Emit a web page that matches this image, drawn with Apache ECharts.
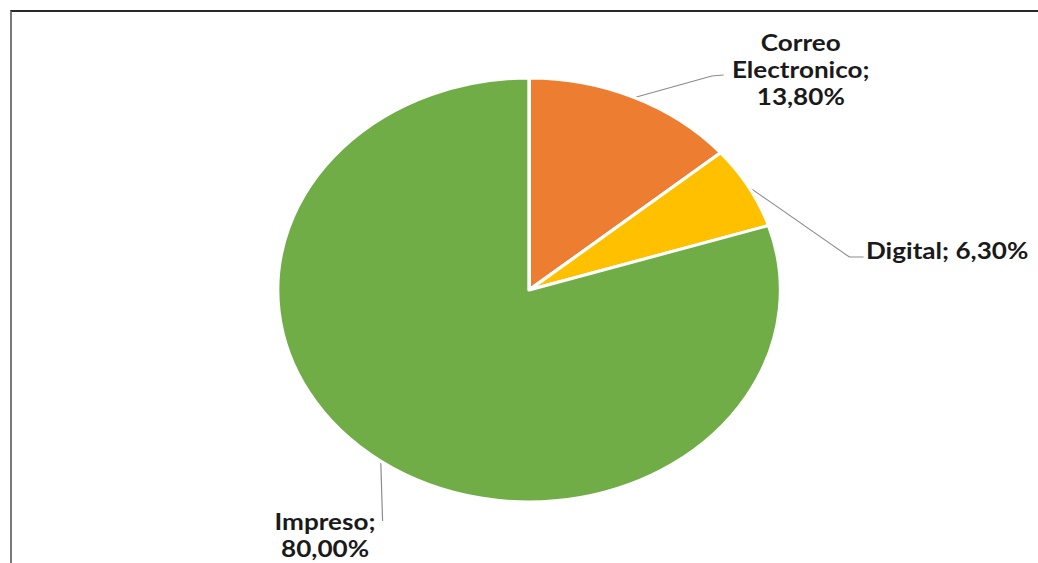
<!DOCTYPE html>
<html>
<head>
<meta charset="utf-8">
<script src="https://cdn.jsdelivr.net/npm/echarts@6/dist/echarts.min.js"></script>
<style>
  html, body { margin: 0; padding: 0; background: #fff; overflow: hidden; }
  #frame { position: absolute; left: 10px; top: 10px; width: 1040px; height: 560px;
           border-top: 2px solid #2a2a2a; border-left: 2px solid #7a7a7a; box-sizing: border-box; }
  #chart { position: absolute; left: 0; top: 0; width: 875px; height: 563px;
           transform: scaleX(1.1863); transform-origin: 0 0; }
</style>
</head>
<body>
<div id="frame"></div>
<div id="chart"></div>
<script>
// ---- data ----
const categories = ['Correo Electronico', 'Digital', 'Impreso'];
const values = [13.8, 6.3, 80.0];
const colors = ['#ED7D31', '#FFC000', '#70AD47'];

// ---- label layout (unscaled chart coordinates) ----
const labelWrap = ['words', 'none', 'value'];
const labelPos = [
  { x: 675, y: 69, align: 'center', bend: [600, 76], end: [610, 75] },
  { x: 730, y: 250, align: 'left', bend: [716, 257], end: [728, 257] },
  { x: 274, y: 535, align: 'center', bend: [322.5, 521], end: [322.5, 521] }
];

function fmt(v) { return v.toFixed(2).replace('.', ',') + '%'; }
function labelText(i) {
  const n = categories[i], p = fmt(values[i]);
  if (labelWrap[i] === 'words') return n.split(' ').join('\n') + ';\n' + p;
  if (labelWrap[i] === 'value') return n + ';\n' + p;
  return n + '; ' + p;
}

const chart = echarts.init(document.getElementById('chart'), null, { renderer: 'svg' });
chart.setOption({
  animation: false,
  series: [{
    type: 'pie',
    center: [446, 290],
    radius: 212,
    startAngle: 90,
    clockwise: true,
    avoidLabelOverlap: false,
    data: categories.map((c, i) => ({ name: c, value: values[i], itemStyle: { color: colors[i] } })),
    itemStyle: { borderColor: '#ffffff', borderWidth: 3 },
    label: {
      show: true,
      position: 'outside',
      formatter: p => labelText(p.dataIndex),
      fontFamily: 'Lato',
      fontWeight: 'bold',
      fontSize: 22,
      lineHeight: 27,
      color: '#1a1a1a'
    },
    labelLine: { show: true, length: 10, length2: 10, lineStyle: { color: '#8c8c8c', width: 1 } },
    labelLayout: function (params) {
      const L = labelPos[params.dataIndex];
      const start = params.labelLinePoints ? params.labelLinePoints[0] : null;
      const out = { x: L.x, y: L.y, align: L.align, verticalAlign: 'middle' };
      if (start) out.labelLinePoints = [start, L.bend, L.end];
      return out;
    },
    emphasis: { disabled: true }
  }]
});
</script>
</body>
</html>
